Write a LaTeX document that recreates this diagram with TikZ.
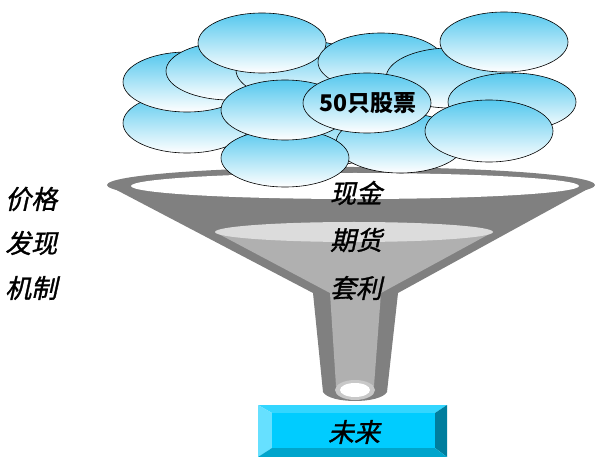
\documentclass[tikz,border=0pt]{standalone}
\usepackage{fontspec}
\newfontfamily\cjk[FakeSlant=0.22,FakeBold=1.2]{Noto Sans CJK SC}
\newfontfamily\cjkup{Noto Sans CJK SC}
\definecolor{funnelgray}{RGB}{128,128,128}
\definecolor{liquid}{RGB}{176,176,176}
\definecolor{liquidtop}{RGB}{220,220,220}
\definecolor{ringgray}{RGB}{200,200,200}
\definecolor{skyblue}{RGB}{85,200,238}
\definecolor{facecyan}{RGB}{0,204,255}
\definecolor{bevtop}{RGB}{51,214,255}
\definecolor{bevleft}{RGB}{102,224,255}
\definecolor{bevright}{RGB}{0,126,158}
\definecolor{bevbottom}{RGB}{0,165,204}
\tikzset{
  stock/.style={draw=black, line width=0.6pt, top color=skyblue, bottom color=white},
  label/.style={font=\cjk\fontsize{26}{29}\selectfont, inner sep=0pt},
}
\begin{document}
\begin{tikzpicture}[x=1pt,y=-1pt]
\useasboundingbox (0,0) rectangle (595,457);

% funnel body
\fill[funnelgray] (107,185) -- (313,293) -- (323,392)
  .. controls (330,404) and (380,404) .. (387,392) -- (398,293) -- (595,185) -- cycle;
\fill[funnelgray] (351,185) ellipse [x radius=244, y radius=18];
\fill[white] (355,186) ellipse [x radius=224, y radius=13];
% liquid inside the cone
\fill[liquid] (215,232) -- (330,293) -- (336,386) -- (374,386) -- (381,293) -- (493,232) -- cycle;
\fill[liquidtop] (354,232) ellipse [x radius=139, y radius=10];
% outlet
\fill[ringgray] (355,390) ellipse [x radius=20, y radius=10];
\fill[white] (355,390) ellipse [x radius=15, y radius=7];

% pile of stocks
\path[stock] (187,123) ellipse [x radius=64, y radius=30];
\path[stock] (187,82) ellipse [x radius=64, y radius=30];
\path[stock] (230,71) ellipse [x radius=64, y radius=29];
\path[stock] (300,70) ellipse [x radius=64, y radius=30];
\path[stock] (262,43) ellipse [x radius=64, y radius=30];
\path[stock] (329,135) ellipse [x radius=64, y radius=30];
\path[stock] (400,143) ellipse [x radius=64, y radius=30];
\path[stock] (285,158) ellipse [x radius=64, y radius=29];
\path[stock] (285,110) ellipse [x radius=64, y radius=30];
\path[stock] (381,62) ellipse [x radius=63, y radius=29];
\path[stock] (450,78) ellipse [x radius=64, y radius=30];
\path[stock] (512,102) ellipse [x radius=64, y radius=29];
\path[stock] (504,42) ellipse [x radius=64, y radius=30];
\path[stock] (489,131) ellipse [x radius=64, y radius=31];
\path[stock] (367,103) ellipse [x radius=64, y radius=30];
\node[inner sep=0pt, font=\cjkup\bfseries\fontsize{23}{26}\selectfont] (stocks) at (368,103) {50只股票};

% funnel labels
\node[label] (cash) at (356,193) {现金};
\node[label] (futures) at (356,240) {期货};
\node[label] (arb) at (356,288) {套利};

% left labels
\node[label, anchor=west] (price) at (5,199) {价格};
\node[label, anchor=west] (discover) at (5,243) {发现};
\node[label, anchor=west] (mech) at (5,288) {机制};

% bevelled box
\fill[bevtop] (258,405) -- (447,405) -- (435,413) -- (272,413) -- cycle;
\fill[bevleft] (258,405) -- (272,413) -- (272,448) -- (258,457) -- cycle;
\fill[bevright] (447,405) -- (447,457) -- (435,448) -- (435,413) -- cycle;
\fill[bevbottom] (258,457) -- (272,448) -- (435,448) -- (447,457) -- cycle;
\fill[facecyan] (272,413) rectangle (435,448);
\node[label] (future) at (354,432) {未来};
\end{tikzpicture}
\end{document}
